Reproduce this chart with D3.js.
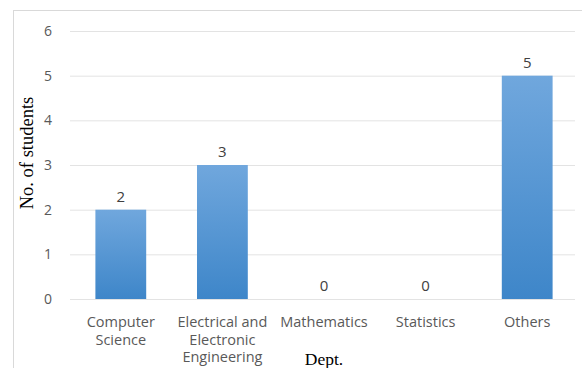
<!DOCTYPE html>
<html>
<head>
<meta charset="utf-8">
<script src="https://cdn.jsdelivr.net/npm/d3@7"></script>
<style>
  html, body { margin: 0; padding: 0; background: #fff; }
  svg { display: block; }
</style>
</head>
<body>
<svg id="chart" width="582" height="368"></svg>
<script>
// Students per department
const departments = [
  ["Computer", "Science"],
  ["Electrical and", "Electronic", "Engineering"],
  ["Mathematics"],
  ["Statistics"],
  ["Others"]
];
const students = [2, 3, 0, 0, 5];
const yTicks = [0, 1, 2, 3, 4, 5, 6];

const svg = d3.select("#chart");
const W = 582, H = 368;
const plot = { left: 70, right: 578, top: 31, bottom: 299 };
const sans = "'Open Sans', 'Noto Sans', sans-serif";
const serif = "'Liberation Serif', 'Times New Roman', serif";

// chart frame
svg.append("rect")
  .attr("x", 13.5).attr("y", 10.5)
  .attr("width", W + 10).attr("height", H + 10)
  .attr("fill", "#fff").attr("stroke", "#d9d9d9");

const x = d3.scaleBand()
  .domain(d3.range(departments.length))
  .range([plot.left, plot.right])
  .paddingInner(0.5).paddingOuter(0.25);

const y = d3.scaleLinear().domain([0, 6]).range([plot.bottom, plot.top]);

// gridlines and tick labels
const yAxis = d3.axisLeft(y).tickValues(yTicks).tickFormat(d3.format("d"))
  .tickSize(-(plot.right - plot.left - 3)).tickPadding(18);
const gy = svg.append("g").attr("transform", `translate(${plot.left},0)`).call(yAxis);
gy.select(".domain").remove();
gy.selectAll(".tick line").attr("stroke", "#e3e3e3");
gy.selectAll(".tick text")
  .attr("fill", "#595959").style("font-family", sans).style("font-size", "14px");

// bar fill gradient
const grad = svg.append("defs").append("linearGradient")
  .attr("id", "barFill").attr("x1", 0).attr("y1", 0).attr("x2", 0).attr("y2", 1);
grad.append("stop").attr("offset", "0%").attr("stop-color", "#70a7dd");
grad.append("stop").attr("offset", "100%").attr("stop-color", "#3e86c9");

svg.append("g").selectAll("rect")
  .data(students)
  .join("rect")
  .attr("x", (d, i) => x(i))
  .attr("y", d => y(d))
  .attr("width", x.bandwidth())
  .attr("height", d => y(0) - y(d))
  .attr("fill", "url(#barFill)");

// value labels
svg.append("g").selectAll("text")
  .data(students)
  .join("text")
  .attr("x", (d, i) => x(i) + x.bandwidth() / 2)
  .attr("y", d => y(d) - 8)
  .attr("text-anchor", "middle")
  .attr("fill", "#404040")
  .style("font-family", sans).style("font-size", "15px")
  .text(d => d);

// category labels
const cat = svg.append("g").selectAll("text")
  .data(departments)
  .join("text")
  .attr("text-anchor", "middle")
  .attr("fill", "#595959")
  .style("font-family", sans).style("font-size", "14.5px")
  .attr("transform", (d, i) => `translate(${x(i) + x.bandwidth() / 2},327)`);
cat.selectAll("tspan")
  .data(d => d)
  .join("tspan")
  .attr("x", 0)
  .attr("dy", (d, j) => j === 0 ? 0 : 17.5)
  .text(d => d);

// axis titles
svg.append("text")
  .attr("transform", `translate(33,153) rotate(-90)`)
  .attr("text-anchor", "middle")
  .attr("fill", "#000")
  .style("font-family", serif).style("font-size", "18.5px")
  .text("No. of students");

svg.append("text")
  .attr("x", 324).attr("y", 365)
  .attr("text-anchor", "middle")
  .attr("fill", "#000")
  .style("font-family", serif).style("font-size", "17.5px")
  .text("Dept.");
</script>
</body>
</html>
